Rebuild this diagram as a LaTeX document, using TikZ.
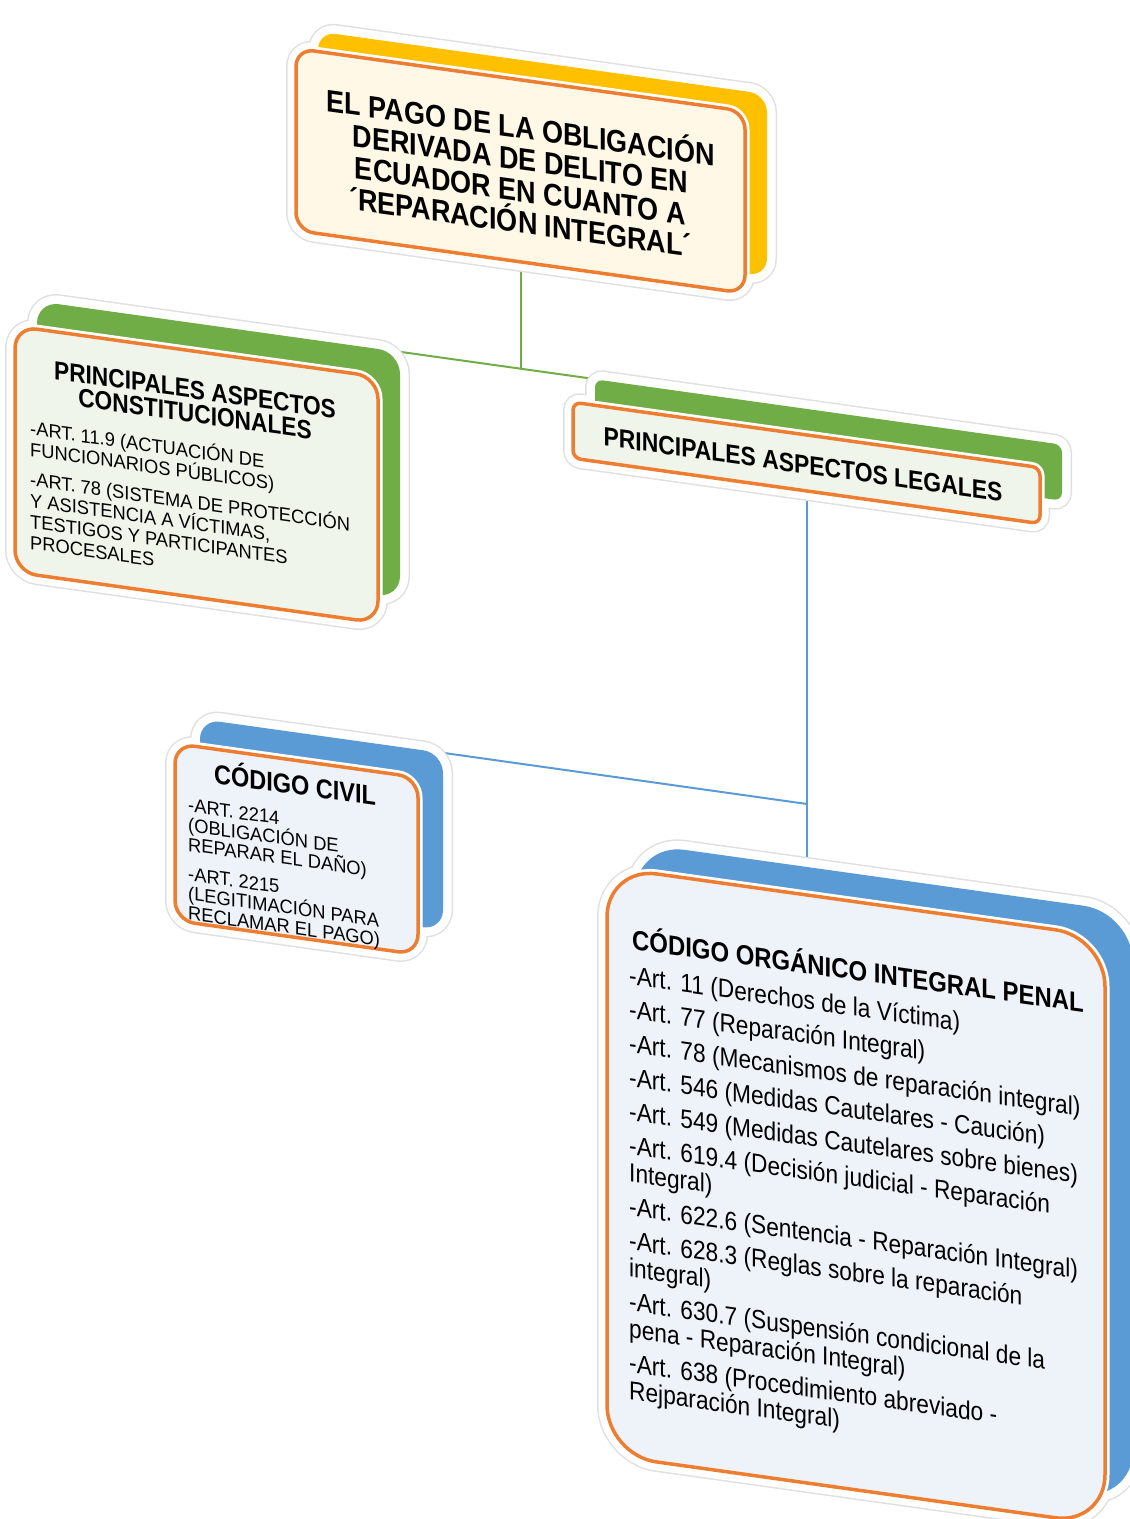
\documentclass[tikz,border=0pt]{standalone}
\usepackage{fontspec}
\setmainfont{Liberation Sans}
\usepackage{tikz}
\usetikzlibrary{backgrounds}
\definecolor{boxorange}{RGB}{237,125,49}
\definecolor{topyellow}{RGB}{255,192,0}
\definecolor{leafgreen}{RGB}{112,173,71}
\definecolor{leafblue}{RGB}{91,155,213}
\definecolor{topcream}{RGB}{255,248,230}
\definecolor{greenwash}{RGB}{240,245,235}
\definecolor{bluewash}{RGB}{238,243,250}
\setlength{\lineskiplimit}{-100pt}

\begin{document}
\begin{tikzpicture}[x=1pt, y=-1pt,
    halo/.style={draw=black!12, line width=20pt, postaction={draw=white, line width=17pt, fill=white}},
    backface/.style={rectangle, fill=#1, transform shape, inner sep=0pt},
    frontface/.style={rectangle, fill=#1, draw=boxorange, line width=3.5pt, transform shape, inner sep=0pt, preaction={draw=white, line width=9pt}},
    txt/.style={transform shape, yscale=#1, inner sep=0pt, text=black},
    txt/.default=1.15,
    greenline/.style={draw=leafgreen, line width=2pt},
    blueline/.style={draw=leafblue, line width=2pt}]
    \useasboundingbox (0,0) rectangle (1130,1519);
    \begin{scope}[yslant=-0.14]
        % Main topic box
        \path[halo, rounded corners=18pt] (296,7) rectangle (745,189) (318,-13) rectangle (767,169);
        \node[backface=topyellow, minimum width=449pt, minimum height=182pt, rounded corners=18pt] (topback) at (542.5,78) {};
        \node[frontface=topcream, minimum width=449pt, minimum height=182pt, rounded corners=18pt] (top) at (520.5,98) {};
        \node[txt, anchor=north, align=center, font=\fontsize{27}{27.4}\selectfont\bfseries] (toptext) at (520.5,38) {EL PAGO DE LA OBLIGACIÓN\\DERIVADA DE DELITO EN\\ECUADOR EN CUANTO A\\´REPARACIÓN INTEGRAL´};

        % Constitution box
        \path[halo, rounded corners=22pt] (15,324) rectangle (378,570) (37,296) rectangle (400,542);
        \node[backface=leafgreen, minimum width=363pt, minimum height=246pt, rounded corners=22pt] (constback) at (218.5,419) {};
        \node[frontface=greenwash, minimum width=363pt, minimum height=246pt, rounded corners=22pt] (const) at (196.5,447) {};
        \node[txt, anchor=north, align=center, font=\fontsize{22.7}{20.9}\selectfont\bfseries] (consttitle) at (195,353) {PRINCIPALES ASPECTOS\\CONSTITUCIONALES};
        \node[txt=1.05, anchor=north west, align=left, font=\fontsize{18.3}{20}\selectfont] (constbody) at (30,414) {-ART. 11.9 (ACTUACIÓN DE\\FUNCIONARIOS PÚBLICOS)\\[8.6pt]-ART. 78 (SISTEMA DE PROTECCIÓN\\Y ASISTENCIA A VÍCTIMAS,\\TESTIGOS Y PARTICIPANTES\\PROCESALES};

        % Legal aspects box
        \path[halo, rounded corners=8pt] (573,322) rectangle (1040,378) (595,296) rectangle (1062,352);
        \node[backface=leafgreen, minimum width=467pt, minimum height=56pt, rounded corners=8pt] (legalback) at (828.5,324) {};
        \node[frontface=greenwash, minimum width=467pt, minimum height=56pt, rounded corners=8pt] (legal) at (806.5,350) {};
        \node[txt, font=\fontsize{22.9}{22.9}\selectfont\bfseries] (legaltext) at (803,352) {PRINCIPALES ASPECTOS LEGALES};

        % Civil code box
        \path[halo, rounded corners=20pt] (175,719) rectangle (418,896) (200,691) rectangle (443,868);
        \node[backface=leafblue, minimum width=243pt, minimum height=177pt, rounded corners=20pt] (civilback) at (321.5,779.5) {};
        \node[frontface=bluewash, minimum width=243pt, minimum height=177pt, rounded corners=20pt] (civil) at (296.5,807.5) {};
        \node[txt, anchor=north, font=\fontsize{23.5}{20}\selectfont\bfseries] (civiltitle) at (295,729) {CÓDIGO CIVIL};
        \node[txt=1.05, anchor=north west, align=left, font=\fontsize{18.3}{18.6}\selectfont] (civilbody) at (188,772) {-ART. 2214\\(OBLIGACIÓN DE\\REPARAR EL DAÑO)\\[9.5pt]-ART. 2215\\(LEGITIMACIÓN PARA\\RECLAMAR EL PAGO)};

        % Penal code box
        \path[halo, rounded corners=50pt] (607,782) rectangle (1105,1370) (635,754) rectangle (1133,1342);
        \node[backface=leafblue, minimum width=498pt, minimum height=588pt, rounded corners=50pt] (coipback) at (884,1048) {};
        \node[frontface=bluewash, minimum width=498pt, minimum height=588pt, rounded corners=50pt] (coip) at (856,1076) {};
        \node[txt, anchor=north west, font=\fontsize{23.9}{24}\selectfont\bfseries] (coiptitle) at (632,836) {CÓDIGO ORGÁNICO INTEGRAL PENAL};
        \node[txt, anchor=north west, align=left, font=\fontsize{22.7}{23.5}\selectfont] (coipbody) at (629,877) {-Art. 11 (Derechos de la Víctima)\\[6.1pt]-Art. 77 (Reparación Integral)\\[6.1pt]-Art. 78 (Mecanismos de reparación integral)\\[6.1pt]-Art. 546 (Medidas Cautelares - Caución)\\[6.1pt]-Art. 549 (Medidas Cautelares sobre bienes)\\[6.1pt]-Art. 619.4 (Decisión judicial - Reparación\\Integral)\\[6.1pt]-Art. 622.6 (Sentencia - Reparación Integral)\\[6.1pt]-Art. 628.3 (Reglas sobre la reparación\\integral)\\[6.1pt]-Art. 630.7 (Suspensión condicional de la\\pena - Reparación Integral)\\[6.1pt]-Art. 638 (Procedimiento abreviado -\\Rejparación Integral)};

        % Connectors
        \coordinate (j1) at (520.5,296);
        \coordinate (j2) at (806.5,691);
        \coordinate (j3) at (806.5,790);
        \begin{scope}[on background layer]
            \draw[greenline] (top.south) -- (j1);
            \draw[greenline] (constback.north east) -- (legalback.north west);
            \draw[blueline] (legal.south) -- (j3);
            \draw[blueline] (civilback.north east) -- (j2);
        \end{scope}
    \end{scope}
\end{tikzpicture}
\end{document}
